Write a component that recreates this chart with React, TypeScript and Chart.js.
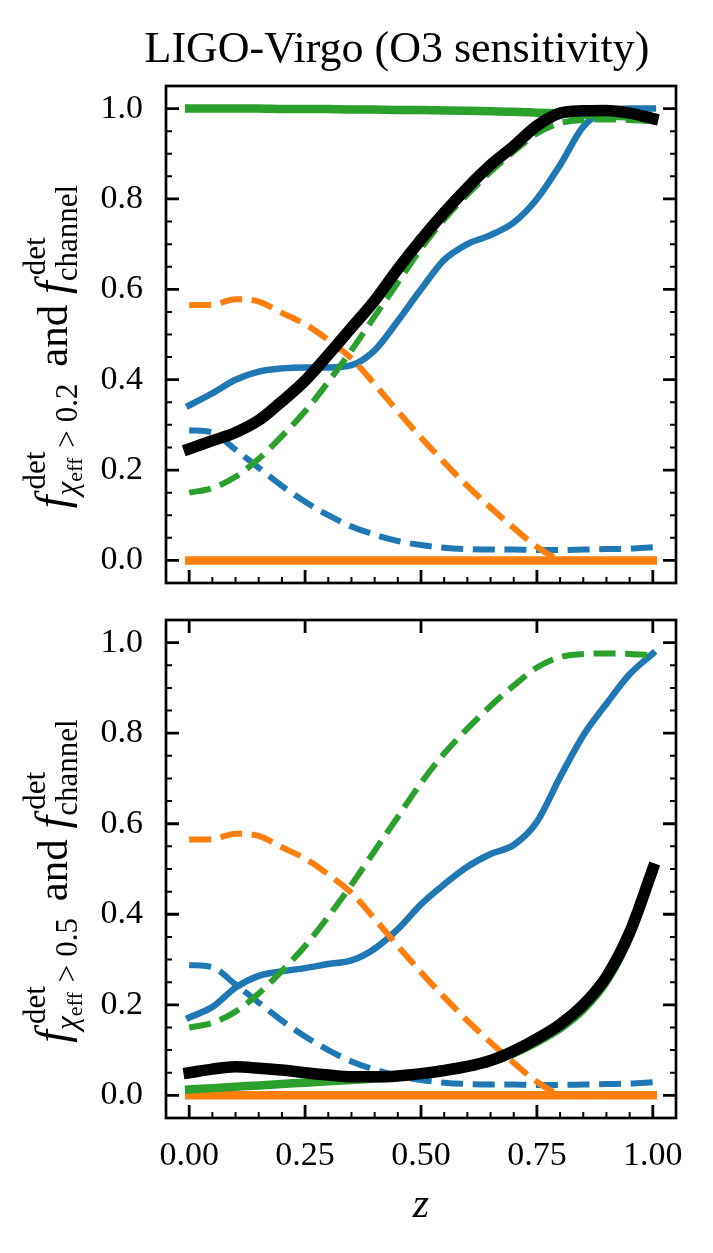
import React, { useEffect, useRef } from "react";
import { Chart, registerables } from "chart.js";

Chart.register(...registerables);

// redshift grid
const z = [0, 0.05, 0.1, 0.15, 0.2, 0.25, 0.3, 0.35, 0.4, 0.45, 0.5, 0.55, 0.6, 0.65, 0.7, 0.75, 0.8, 0.85, 0.9, 0.95, 1.0];

// dashed: f_channel (same in both panels)
const blueChannel = [0.288, 0.283, 0.245, 0.205, 0.165, 0.13, 0.1, 0.075, 0.057, 0.043, 0.034, 0.028, 0.025, 0.024, 0.024, 0.023, 0.023, 0.024, 0.025, 0.026, 0.029];
const orangeChannel = [0.565, 0.566, 0.578, 0.573, 0.548, 0.523, 0.488, 0.447, 0.39, 0.33, 0.272, 0.217, 0.165, 0.117, 0.072, 0.03, 0.003, 0, 0, 0, 0];
const greenChannel = [0.15, 0.16, 0.185, 0.225, 0.275, 0.33, 0.395, 0.465, 0.54, 0.615, 0.69, 0.755, 0.81, 0.86, 0.905, 0.945, 0.968, 0.975, 0.976, 0.975, 0.972];

// solid: f_chi_eff > 0.2
const blueAbove02 = [0.343, 0.37, 0.4, 0.418, 0.425, 0.427, 0.427, 0.432, 0.465, 0.53, 0.6, 0.665, 0.7, 0.72, 0.748, 0.8, 0.875, 0.96, 0.995, 1.0, 1.0];
const orangeAbove02 = [0, 0, 0, 0, 0, 0, 0, 0, 0, 0, 0, 0, 0, 0, 0, 0, 0, 0, 0, 0, 0];
const greenAbove02 = [1.0, 1.0, 1.0, 1.0, 0.999, 0.999, 0.999, 0.998, 0.998, 0.997, 0.997, 0.996, 0.995, 0.994, 0.993, 0.991, 0.989, 0.987, 0.985, 0.983, 0.98];
const totalAbove02 = [0.247, 0.265, 0.283, 0.31, 0.352, 0.398, 0.455, 0.515, 0.575, 0.645, 0.71, 0.77, 0.825, 0.875, 0.917, 0.962, 0.99, 0.995, 0.996, 0.99, 0.978];

// solid: f_chi_eff > 0.5
const blueAbove05 = [0.172, 0.195, 0.238, 0.264, 0.274, 0.281, 0.29, 0.298, 0.324, 0.367, 0.422, 0.466, 0.505, 0.533, 0.553, 0.604, 0.703, 0.795, 0.865, 0.93, 0.976];
const orangeAbove05 = [0, 0, 0, 0, 0, 0, 0, 0, 0, 0, 0, 0, 0, 0, 0, 0, 0, 0, 0, 0, 0];
const greenAbove05 = [0.013, 0.016, 0.019, 0.022, 0.025, 0.028, 0.031, 0.034, 0.037, 0.041, 0.046, 0.053, 0.062, 0.074, 0.093, 0.118, 0.148, 0.19, 0.252, 0.35, 0.49];
const totalAbove05 = [0.05, 0.058, 0.063, 0.06, 0.056, 0.05, 0.045, 0.041, 0.041, 0.043, 0.048, 0.055, 0.064, 0.077, 0.098, 0.125, 0.157, 0.2, 0.262, 0.36, 0.5];

const xTicks = [0, 0.25, 0.5, 0.75, 1.0];
const xTickLabels = ["0.00", "0.25", "0.50", "0.75", "1.00"];
const xMinorTicks = [0.05, 0.1, 0.15, 0.2, 0.3, 0.35, 0.4, 0.45, 0.55, 0.6, 0.65, 0.7, 0.8, 0.85, 0.9, 0.95];
const yTicks = [0, 0.2, 0.4, 0.6, 0.8, 1.0];
const yTickLabels = ["0.0", "0.2", "0.4", "0.6", "0.8", "1.0"];
const yMinorTicks = [0.05, 0.1, 0.15, 0.25, 0.3, 0.35, 0.45, 0.5, 0.55, 0.65, 0.7, 0.75, 0.85, 0.9, 0.95];

const BLUE = "#1f77b4";
const ORANGE = "#ff7f0e";
const GREEN = "#2ca02c";

const serif = '"Liberation Serif", "Times New Roman", serif';

const toPoints = (ys: number[]) => z.map((x, i) => ({ x, y: ys[i] }));

const solid = (ys: number[], color: string, width: number) => ({
  data: toPoints(ys),
  borderColor: color,
  borderWidth: width,
  borderCapStyle: "square" as const,
  borderJoinStyle: "round" as const,
  pointRadius: 0,
  fill: false,
  cubicInterpolationMode: "monotone" as const,
});

const dashed = (ys: number[], color: string) => ({
  ...solid(ys, color, 6),
  borderDash: [22, 9.6],
  borderCapStyle: "butt" as const,
});

type Run = { text: string; font: string; dy: number; gap?: number };
type Line = { dx: number; runs: Run[] };

// y label pieces, laid out left to right along the rotated baseline
function yLabelColumns(threshold: string): Line[][] {
  const main = `43px ${serif}`;
  const mainIt = `italic 46px ${serif}`;
  const script = `31px ${serif}`;
  const scriptIt = `italic 31px ${serif}`;
  const tiny = `22px ${serif}`;
  return [
    [{ dx: 0, runs: [{ text: "f", font: mainIt, dy: 0 }] }],
    [
      { dx: 6, runs: [{ text: "det", font: script, dy: -22 }] },
      {
        dx: 0,
        runs: [
          { text: "χ", font: scriptIt, dy: 10 },
          { text: "eff", font: tiny, dy: 15 },
          { text: ">", font: script, dy: 10, gap: 10 },
          { text: threshold, font: script, dy: 10, gap: 8 },
        ],
      },
    ],
    [{ dx: 0, runs: [{ text: " and ", font: main, dy: 0, gap: 6 }] }],
    [{ dx: 0, runs: [{ text: "f", font: mainIt, dy: 0 }] }],
    [
      { dx: 6, runs: [{ text: "det", font: script, dy: -22 }] },
      { dx: 0, runs: [{ text: "channel", font: script, dy: 10 }] },
    ],
  ];
}

function drawYLabel(ctx: CanvasRenderingContext2D, cols: Line[][], baseX: number, centerY: number) {
  const lineWidth = (line: Line) => {
    let w = line.dx;
    for (const r of line.runs) {
      ctx.font = r.font;
      w += (r.gap ?? 0) + ctx.measureText(r.text).width;
    }
    return w;
  };
  const widths = cols.map((col) => Math.max(...col.map(lineWidth)));
  const total = widths.reduce((a, b) => a + b, 0);
  ctx.save();
  ctx.translate(baseX, centerY);
  ctx.rotate(-Math.PI / 2);
  ctx.fillStyle = "#000";
  ctx.textAlign = "left";
  ctx.textBaseline = "alphabetic";
  let x = -total / 2;
  cols.forEach((col, i) => {
    for (const line of col) {
      let lx = x + line.dx;
      for (const r of line.runs) {
        ctx.font = r.font;
        lx += r.gap ?? 0;
        ctx.fillText(r.text, lx, r.dy);
        lx += ctx.measureText(r.text).width;
      }
    }
    x += widths[i];
  });
  ctx.restore();
}

interface PanelProps {
  datasets: any[];
  threshold: string;
  top: boolean;
}

function Panel({ datasets, threshold, top }: PanelProps) {
  const canvasRef = useRef<HTMLCanvasElement>(null);
  const height = top ? 600 : 653;

  useEffect(() => {
    const ctx = canvasRef.current?.getContext("2d");
    if (!ctx) {
      return;
    }

    const axesPlugin = {
      id: "axesDecor",
      beforeDatasetsDraw(chart: any) {
        const { ctx: c, chartArea: a, scales } = chart;
        const xs = scales.x;
        const ys = scales.y;
        c.save();
        c.strokeStyle = "#000";
        const sets: [number[], number, number, boolean][] = [
          [xTicks, 13, 2.8, true],
          [xMinorTicks, 6, 2, false],
        ];
        for (const [vals, len, w, major] of sets) {
          c.lineWidth = w;
          for (const v of vals) {
            const px = xs.getPixelForValue(v);
            c.beginPath();
            c.moveTo(px, a.bottom);
            c.lineTo(px, a.bottom - len);
            if (!top && major) {
              c.moveTo(px, a.top);
              c.lineTo(px, a.top + len);
            }
            c.stroke();
          }
        }
        const ysets: [number[], number, number][] = [
          [yTicks, 13, 2.8],
          [yMinorTicks, 6, 2],
        ];
        for (const [vals, len, w] of ysets) {
          c.lineWidth = w;
          for (const v of vals) {
            const py = ys.getPixelForValue(v);
            c.beginPath();
            c.moveTo(a.left, py);
            c.lineTo(a.left + len, py);
            c.moveTo(a.right, py);
            c.lineTo(a.right - len, py);
            c.stroke();
          }
        }
        c.restore();
      },
      afterDatasetsDraw(chart: any) {
        const { ctx: c, chartArea: a } = chart;
        c.save();
        c.strokeStyle = "#000";
        c.lineWidth = 2.7;
        c.strokeRect(a.left, a.top, a.right - a.left, a.bottom - a.top);
        c.restore();
      },
      afterDraw(chart: any) {
        const c: CanvasRenderingContext2D = chart.ctx;
        const a = chart.chartArea;
        c.save();
        c.fillStyle = "#000";
        c.textAlign = "center";
        c.textBaseline = "alphabetic";
        if (top) {
          c.font = `44px ${serif}`;
          c.fillText("LIGO-Virgo (O3 sensitivity)", 397, 62);
        } else {
          c.font = `italic 42px ${serif}`;
          c.fillText("z", (a.left + a.right) / 2, 617);
        }
        c.restore();
        drawYLabel(c, yLabelColumns(threshold), 67, (a.top + a.bottom) / 2 + 12);
      },
    };

    const tickFont = { family: serif, size: 34 };

    const chart = new Chart(ctx, {
      type: "line",
      data: { datasets },
      options: {
        animation: false,
        responsive: false,
        devicePixelRatio: 1,
        events: [],
        layout: { padding: { top: top ? 86 : 20, right: 37, left: 0, bottom: 0 } },
        plugins: { legend: { display: false }, tooltip: { enabled: false }, title: { display: false } },
        scales: {
          x: {
            type: "linear",
            min: -0.05,
            max: 1.05,
            grid: { display: false, drawTicks: false },
            border: { display: false },
            afterBuildTicks: (s: any) => {
              s.ticks = xTicks.map((v) => ({ value: v }));
            },
            afterFit: (s: any) => {
              s.height = top ? 17 : 135;
              s.paddingLeft = 0;
              s.paddingRight = 0;
              s.paddingTop = 0;
              s.paddingBottom = 0;
            },
            ticks: {
              display: !top,
              autoSkip: false,
              maxRotation: 0,
              padding: 18,
              color: "#000",
              font: tickFont,
              callback: (v: any) => xTickLabels[xTicks.indexOf(v)] ?? "",
            },
          },
          y: {
            type: "linear",
            min: -0.05,
            max: 1.05,
            grid: { display: false, drawTicks: false },
            border: { display: false },
            afterBuildTicks: (s: any) => {
              s.ticks = yTicks.map((v) => ({ value: v }));
            },
            afterFit: (s: any) => {
              s.width = 166;
              s.paddingTop = 0;
              s.paddingBottom = 0;
              s.paddingLeft = 0;
              s.paddingRight = 0;
            },
            ticks: {
              autoSkip: false,
              padding: 23,
              color: "#000",
              font: tickFont,
              callback: (v: any) => yTickLabels[yTicks.indexOf(v)] ?? "",
            },
          },
        },
      },
      plugins: [axesPlugin],
    } as any);

    return () => {
      chart.destroy();
    };
    // eslint-disable-next-line react-hooks/exhaustive-deps
  }, []);

  return <canvas ref={canvasRef} width={713} height={height} style={{ display: "block", width: 713, height }} />;
}

function makeDatasets(blue: number[], orange: number[], green: number[], total: number[]) {
  // first entry is drawn on top
  return [
    solid(total, "#000", 11.5),
    dashed(greenChannel, GREEN),
    solid(green, GREEN, 8.5),
    dashed(orangeChannel, ORANGE),
    solid(orange, ORANGE, 8.5),
    dashed(blueChannel, BLUE),
    solid(blue, BLUE, 6.5),
  ];
}

export default function App() {
  return (
    <div style={{ position: "absolute", left: 0, top: 0, width: 713, height: 1253, background: "#fff" }}>
      <Panel datasets={makeDatasets(blueAbove02, orangeAbove02, greenAbove02, totalAbove02)} threshold="0.2" top={true} />
      <Panel datasets={makeDatasets(blueAbove05, orangeAbove05, greenAbove05, totalAbove05)} threshold="0.5" top={false} />
    </div>
  );
}
